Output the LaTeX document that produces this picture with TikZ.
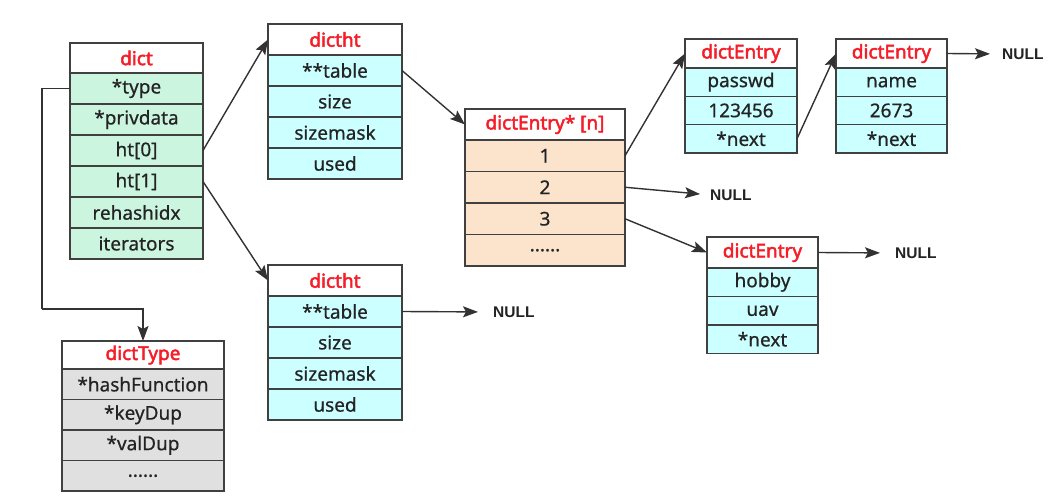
\documentclass[tikz,border=0pt]{standalone}
\usepackage{fontspec}
\setmainfont{Noto Sans}
\newfontfamily\cellfont{Noto Sans}[FakeBold=0.6]
\newfontfamily\hdrfont{Noto Sans}[FakeBold=2.5]
\newfontfamily\nulltxtfont{Liberation Sans}
\usetikzlibrary{arrows.meta}
\definecolor{boxline}{RGB}{64,64,64}
\definecolor{txtcol}{RGB}{35,35,35}
\definecolor{hdrred}{RGB}{245,30,40}
\definecolor{mint}{RGB}{204,245,224}
\definecolor{cyanl}{RGB}{204,255,255}
\definecolor{peach}{RGB}{252,228,204}
\definecolor{grayl}{RGB}{224,224,224}
\definecolor{arrcol}{RGB}{50,50,50}
\newcommand\sixdots{......}
\tikzset{
  cellbox/.style={draw=boxline, line width=1.5pt, inner sep=0pt, outer sep=0pt,
    text=txtcol, font=\cellfont\fontsize{19}{22}\selectfont},
  hdrbox/.style={cellbox, fill=white, text=hdrred, font=\hdrfont\fontsize{19}{22}\selectfont},
  nulltxt/.style={inner sep=0pt, text=txtcol, font=\nulltxtfont\fontsize{15.5}{18}\selectfont\bfseries},
  arr/.style={draw=arrcol, line width=1.4pt, -{Stealth[length=15pt,width=11pt,inset=3pt]}},
  conn/.style={draw=arrcol, line width=1.4pt},
}
% name, x, y, width, header height, row height, fill, header, rows
\newcommand\structbox[9]{%
  \node[hdrbox, anchor=north west, minimum width=#4pt, minimum height=#5pt] (#1-0) at (#2,#3) {#8};
  \foreach \txt [count=\i] in {#9} {
    \pgfmathtruncatemacro\j{\i-1}
    \node[cellbox, fill=#7, anchor=north, minimum width=#4pt, minimum height=#6pt] (#1-\i) at (#1-\j.south) {\txt};
  }
}
\begin{document}
\begin{tikzpicture}[x=1pt,y=-1pt]
\useasboundingbox[fill=white] (0,0) rectangle (1061,500);

\structbox{dict}{70}{43}{133}{30}{31}{mint}{dict}{*type,*privdata,ht[0],ht[1],rehashidx,iterators}
\structbox{dtype}{62}{341}{162}{28}{30.5}{grayl}{dictType}{*hashFunction,*keyDup,*valDup,\sixdots}
\structbox{dhta}{268}{24}{134}{31}{31}{cyanl}{dictht}{**table,size,sizemask,used}
\structbox{dhtb}{268}{265}{134}{31}{31}{cyanl}{dictht}{**table,size,sizemask,used}
\structbox{dep}{465}{109}{160}{31}{31.5}{peach}{dictEntry* [n]}{1,2,3,\sixdots}
\structbox{dea}{685}{39}{112}{29}{28.3}{cyanl}{dictEntry}{passwd,123456,*next}
\structbox{deb}{836}{39}{111}{29}{28.3}{cyanl}{dictEntry}{name,2673,*next}
\structbox{dec}{707}{237}{111}{31}{28.5}{cyanl}{dictEntry}{hobby,uav,*next}

\node[nulltxt, anchor=west] (nulla) at (493,312) {NULL};
\node[nulltxt, anchor=west] (nullb) at (710,195) {NULL};
\node[nulltxt, anchor=west] (nullc) at (1002,54) {NULL};
\node[nulltxt, anchor=west] (nulld) at (895,253) {NULL};

\coordinate (bend) at (42,309);
\draw[conn] (dict-1.west) -| (bend);
\draw[arr] (bend) -| (dtype-0.north);

\draw[arr] (dict-3.east) -- (dhta-0.west);
\draw[arr] (dict-4.east) -- (dhtb-0.west);
\draw[arr] (dhta-1.east) -- (dep-0.west);
\draw[arr, shorten >=15pt] (dhtb-1.east) -- (nulla.west);
\draw[arr] (dep-1.east) -- (dea-0.west);
\draw[arr, shorten >=10pt] (dep-2.east) -- (nullb.west);
\draw[arr] (dep-3.east) -- (dec-0.west);
\draw[arr] (dea-3.east) -- (deb-0.west);
\draw[arr, shorten >=12pt] (deb-0.east) -- (nullc.west);
\draw[arr, shorten >=15pt] (dec-0.east) -- (nulld.west);
\end{tikzpicture}
\end{document}
